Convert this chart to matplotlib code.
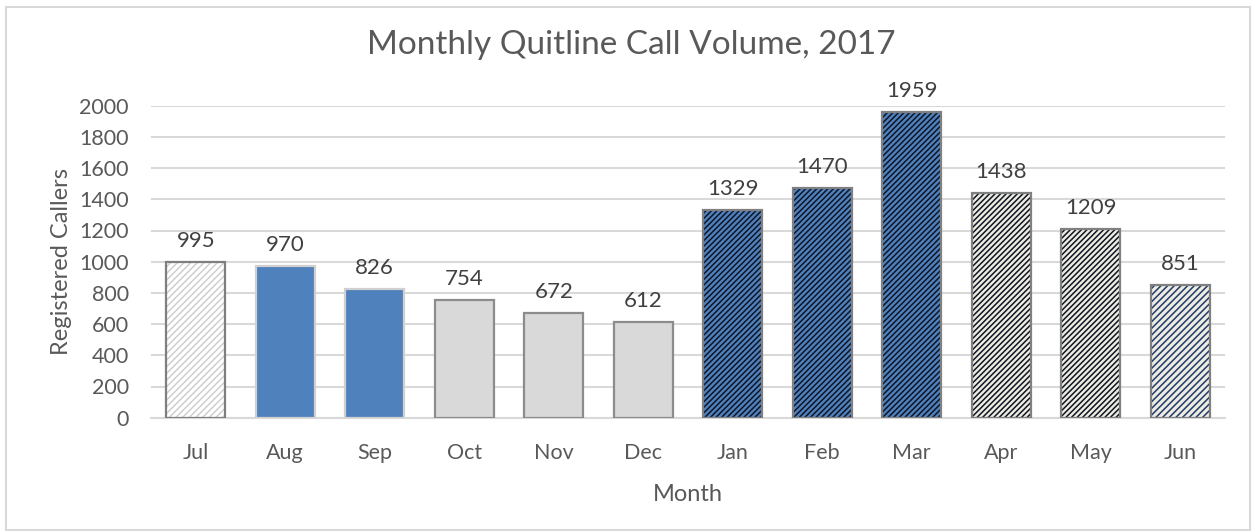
import matplotlib
matplotlib.use("Agg")
import matplotlib.pyplot as plt
from matplotlib.patches import Rectangle

months = ["Jul", "Aug", "Sep", "Oct", "Nov", "Dec", "Jan", "Feb", "Mar", "Apr", "May", "Jun"]
callers = [995, 970, 826, 754, 672, 612, 1329, 1470, 1959, 1438, 1209, 851]

title = "Monthly Quitline Call Volume, 2017"
xlabel = "Month"
ylabel = "Registered Callers"

# per-bar styles: face, hatch, hatch colour, edge colour
BLUE = "#4F81BD"
GRAY = "#D9D9D9"
CREAM = "#EEECE1"
faces = ["white", BLUE, BLUE, GRAY, GRAY, GRAY, BLUE, BLUE, BLUE, CREAM, CREAM, CREAM]
hatches = ["/////", None, None, None, None, None, "//////", "//////", "//////",
           "//////", "//////", "/////"]
hatch_cols = ["#CFCFCF", BLUE, BLUE, GRAY, GRAY, GRAY, "#0D1526", "#0D1526", "#0D1526",
              "#0D1526", "#0D1526", "#1F3A6E"]
edges = ["#7F7F7F", "#D0D0D0", "#D0D0D0", "#8C8C8C", "#8C8C8C", "#8C8C8C", "#808080", "#808080",
         "#808080", "#808080", "#808080", "#808080"]

plt.rcParams["font.family"] = ["Lato", "DejaVu Sans"]
plt.rcParams["hatch.linewidth"] = 1.1

W, H = 1253, 531
fig = plt.figure(figsize=(W / 100, H / 100), dpi=100)
fig.patch.set_facecolor("white")
fig.patches.append(Rectangle((6 / W, 1 / H), (1250 - 6) / W, (H - 7 - 1) / H,
                             transform=fig.transFigure, fill=False,
                             edgecolor="#D9D9D9", linewidth=1.5))

ax = fig.add_axes([151 / W, (H - 417.7) / H, (1225 - 151) / W, (417.7 - 105.7) / H])
x = range(len(months))
width = 0.66

for i, (v, fc, hc, h, ec) in enumerate(zip(callers, faces, hatch_cols, hatches, edges)):
    ax.bar(i, v, width=width, color=fc, edgecolor=hc, hatch=h, linewidth=0, zorder=2)
    ax.bar(i, v, width=width, fill=False, edgecolor=ec, linewidth=1.6, zorder=3)
    ax.annotate(str(v), (i, v), xytext=(0, 8), textcoords="offset points",
                ha="center", va="bottom", fontsize=16, color="#404040")

ax.set_ylim(0, 2000)
ax.set_xlim(-0.5, len(months) - 0.5)
ax.set_yticks(range(0, 2001, 200))
ax.set_xticks(list(x))
ax.set_xticklabels(months)
ax.grid(axis="y", color="#D9D9D9", linewidth=1.5, zorder=0)
ax.set_axisbelow(True)
for s in ["top", "right", "left"]:
    ax.spines[s].set_visible(False)
ax.spines["bottom"].set_color("#D9D9D9")
ax.spines["bottom"].set_linewidth(1.5)
ax.tick_params(axis="both", length=0, labelsize=15.5, labelcolor="#595959")
ax.tick_params(axis="y", pad=16)
ax.tick_params(axis="x", pad=18)

fig.text(631 / W, (H - 45) / H, title, fontsize=24, color="#595959", ha="center", va="center")
ax.set_xlabel(xlabel, fontsize=17, color="#595959", labelpad=15)
ax.set_ylabel(ylabel, fontsize=17, color="#595959", labelpad=5)

fig.savefig("out.png", dpi=100, facecolor="white")
